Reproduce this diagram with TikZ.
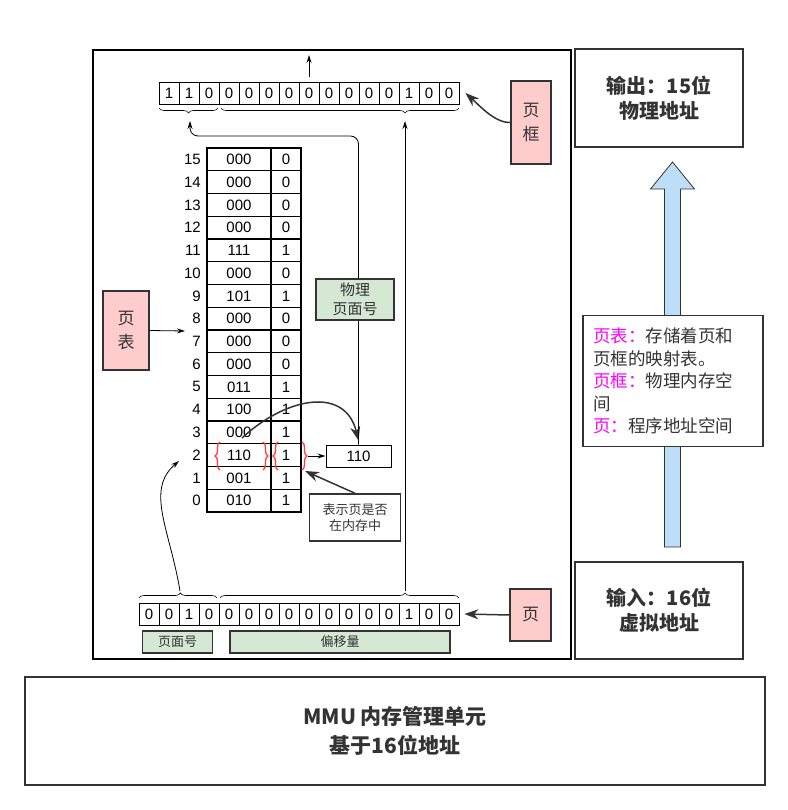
\documentclass[tikz,border=0pt]{standalone}
\usepackage{fontspec}
\setmainfont{Liberation Sans}
\newfontfamily\cjk{Noto Sans CJK SC}
\usepackage{xcolor}
\usetikzlibrary{arrows.meta,positioning,decorations.pathreplacing,calc}

\definecolor{boxline}{HTML}{333333}
\definecolor{pagepink}{HTML}{FFCCCC}
\definecolor{labelgreen}{HTML}{D5E8D4}
\definecolor{arrowblue}{HTML}{BDDEF8}
\definecolor{keymag}{HTML}{FF00FF}
\definecolor{bracered}{HTML}{FF3B3B}

\begin{document}
\begin{tikzpicture}[
  x=1pt, y=-1pt,
  font=\fontsize{15}{17}\selectfont,
  bit/.style={draw, minimum width=20pt, minimum height=22pt, inner sep=0pt, line width=0.8pt},
  pfcell/.style={draw, line width=1.2pt, minimum width=64pt, minimum height=22.75pt, inner sep=0pt},
  pvcell/.style={draw, line width=1.2pt, minimum width=30pt, minimum height=22.75pt, inner sep=0pt},
  pinkbox/.style={draw=boxline, line width=1.2pt, fill=pagepink, inner sep=0pt, text=boxline, align=center, font=\cjk\fontsize{17}{24}\selectfont},
  greenbox/.style={draw=boxline, line width=1.2pt, fill=labelgreen, inner sep=0pt, text=boxline, align=center, font=\cjk\fontsize{13}{17}\selectfont},
  iobox/.style={draw=boxline, line width=1.5pt, align=center, inner sep=0pt, text=boxline, font=\cjk\bfseries\fontsize{20}{25}\selectfont},
  thinarrow/.style={-{Stealth[length=8pt,width=5pt]}, line width=0.8pt},
  bigarrow/.style={-{Stealth[length=14pt,width=10pt]}, line width=1.5pt, draw=boxline},
  brc/.style={decorate, decoration={brace, amplitude=5pt}, line width=0.6pt},
  redbrc/.style={decorate, decoration={brace, amplitude=5pt}, draw=bracered, line width=1.3pt}
]
\useasboundingbox (0,0) rectangle (787,810);

% MMU frame
\draw[line width=1.2pt] (93,50) rectangle (571,659);

% physical address (15 bit)
\foreach \b [count=\i] in {1,1,0,0,0,0,0,0,0,0,0,0,1,0,0}
  \node[bit] (t\i) at ({149+20*\i},93) {\b};
\draw[brc] (218,108) -- (159,108);
\draw[brc, decoration={aspect=0.227}] (459,108) -- (221,108);
\coordinate (physout) at (309,55);
\draw[thinarrow] ([yshift=5pt]t8.north) -- (physout);

% virtual address (16 bit)
\foreach \b [count=\i] in {0,0,1,0,0,0,0,0,0,0,0,0,0,1,0,0}
  \node[bit] (b\i) at ({129+20*\i},614) {\b};
\draw[brc, decoration={aspect=0.53}] (139,598) -- (217,598);
\draw[brc, decoration={aspect=0.774}] (220,598) -- (459,598);
\node[greenbox, minimum width=70pt, minimum height=22pt] (pnlabel) at (177.5,642) {页面号};
\node[greenbox, minimum width=220pt, minimum height=22pt] (offlabel) at (340,642) {偏移量};

% page table
\foreach \n/\f/\v in {15/000/0,14/000/0,13/000/0,12/000/0,11/111/1,10/000/0,9/101/1,8/000/0,
                      7/000/0,6/000/0,5/011/1,4/100/1,3/000/1,2/110/1,1/001/1,0/010/1} {
  \node[pfcell] (pf\n) at (239,{148+22.75*(15.5-\n)}) {\f};
  \node[pvcell] (pv\n) at (286,{148+22.75*(15.5-\n)}) {\v};
  \node[anchor=east, inner sep=0pt] (idx\n) at (201,{148+22.75*(15.5-\n)}) {\n};
}
\draw[redbrc] (220,470) -- (220,442);
\draw[redbrc] (263,442) -- (263,470);
\draw[redbrc] (278,470) -- (278,442);
\draw[redbrc] (302,442) -- (302,470);

% result frame number
\node[draw, line width=1pt, minimum width=65pt, minimum height=22pt, inner sep=0pt] (res) at (358.5,456) {110};
\coordinate (validtip) at (308,456);
\draw[thinarrow] (validtip) -- (res.west);
\coordinate (row3) at (242,438);
\draw[bigarrow] (row3) .. controls (285,398) and (345,385) .. ([yshift=4pt]res.north);
\coordinate (frametop) at (190,121);
\draw[thinarrow, rounded corners=8pt] (res.north) -- (358.5,136) -- (190,136) -- (frametop);
\coordinate (offbot) at (405,591);
\coordinate (offtop) at (405,121);
\draw[thinarrow] (offbot) -- (offtop);
\coordinate (pnbrace) at (180,591);
\coordinate (idxtip) at (179,461);
\draw[thinarrow] (pnbrace) .. controls (170,530) and (145,490) .. (idxtip);

\node[greenbox, minimum width=78pt, minimum height=41pt, font=\cjk\fontsize{15}{19}\selectfont] (ppn) at (355,299.5) {物理\\页面号};
\node[draw=boxline, line width=1.5pt, minimum width=91pt, minimum height=47pt, inner sep=0pt,
      align=center, text=boxline, font=\cjk\fontsize{13}{16}\selectfont] (inmem) at (355,517.5) {表示页是否\\在内存中};
\coordinate (validbrace) at (305,471);
\draw[bigarrow] (inmem.north) -- (validbrace);

% labels
\node[pinkbox, minimum width=46pt, minimum height=79pt] (ptab) at (126,330.5) {页\\表};
\coordinate (tabtip) at (185,331);
\draw[thinarrow] (ptab.east) -- (tabtip);
\node[pinkbox, minimum width=40pt, minimum height=83pt] (pframe) at (531,122.5) {页\\框};
\draw[bigarrow] (pframe.west) .. controls (495,123) and (480,106) .. ([xshift=6pt]t15.east);
\node[pinkbox, minimum width=41pt, minimum height=52pt] (page) at (530.5,615) {页};
\draw[bigarrow] (page.west) -- ([xshift=5pt]b16.east);

% right column
\node[iobox, minimum width=168pt, minimum height=98pt] (outbox) at (659,98) {输出：15位\\物理地址};
\node[iobox, minimum width=168pt, minimum height=97pt] (inbox) at (659,610.5) {输入：16位\\虚拟地址};
\draw[fill=arrowblue, draw=boxline, line width=0.8pt]
  (664.5,547) -- (664.5,189) -- (650.5,189) -- (672.5,162) -- (694.5,189) -- (680.5,189) -- (680.5,547) -- cycle;
\node[draw=boxline, fill=white, line width=1.5pt, minimum width=180pt, minimum height=131pt,
      text width=160pt, align=left, inner sep=0pt, text=boxline,
      font=\cjk\fontsize{17.5}{22.5}\selectfont] (note) at (673,381)
  {\textcolor{keymag}{页表：}存储着页和\\页框的映射表。\\\textcolor{keymag}{页框：}物理内存空\\间\\\textcolor{keymag}{页：}程序地址空间};

\node[iobox, minimum width=740pt, minimum height=108pt, font=\cjk\bfseries\fontsize{21}{29}\selectfont] (mmu) at (395,731)
  {MMU 内存管理单元\\基于16位地址};
\end{tikzpicture}
\end{document}
